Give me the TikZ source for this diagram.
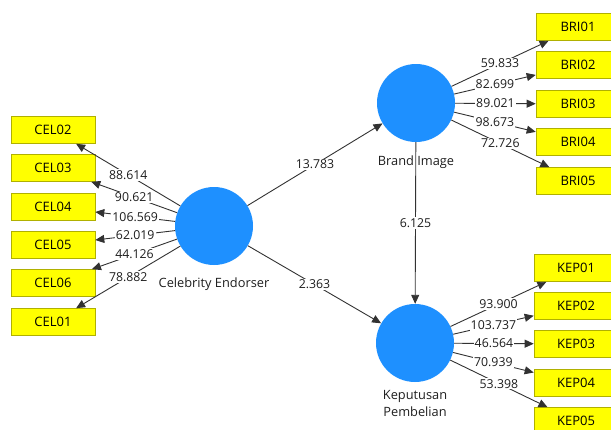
\documentclass[tikz,border=0pt]{standalone}
\usepackage{fontspec}
\setmainfont{Open Sans}
\usetikzlibrary{arrows.meta}
\definecolor{lvblue}{RGB}{30,144,255}
\definecolor{boxyellow}{RGB}{255,255,0}
\definecolor{boxedge}{RGB}{176,176,0}
\definecolor{linegray}{RGB}{50,50,50}
\definecolor{txtgray}{RGB}{30,30,30}
\tikzset{
  latent/.style={circle, fill=lvblue, draw=none, minimum size=78pt, inner sep=0pt},
  indic/.style={rectangle, fill=boxyellow, draw=boxedge, line width=0.6pt, minimum width=84pt, minimum height=27pt, inner sep=0pt, font=\fontsize{13}{15}\selectfont, text=black},
  arr/.style={draw=linegray, line width=0.9pt, -{Triangle[length=9pt,width=8pt]}},
  lbl/.style={fill=white, inner sep=1.2pt, font=\fontsize{12.3}{14}\selectfont, text=txtgray},
  lvname/.style={font=\fontsize{12.8}{17}\selectfont, text=txtgray, align=center}
}
\begin{document}
\begin{tikzpicture}[x=1pt, y=-1pt]
\useasboundingbox (0,0) rectangle (611,429);
\begin{scope}
\clip (0,0) rectangle (611,429);
% latent variables
\node[latent] (ce) at (214,226) {};
\node[latent] (bi) at (416,103) {};
\node[latent] (kp) at (415,343) {};
\node[lvname] (cename) at (214,284) {Celebrity Endorser};
\node[lvname] (biname) at (416,162) {Brand Image};
\node[lvname] (kpname) at (415,403) {Keputusan\\Pembelian};
% CEL indicators
\node[indic] (cel02) at (53,130) {CEL02};
\node[indic] (cel03) at (53,168) {CEL03};
\node[indic] (cel04) at (53,207) {CEL04};
\node[indic] (cel05) at (53,245) {CEL05};
\node[indic] (cel06) at (53,283) {CEL06};
\node[indic] (cel01) at (53,322) {CEL01};
% BRI indicators
\node[indic] (bri01) at (578,27) {BRI01};
\node[indic] (bri02) at (578,65) {BRI02};
\node[indic] (bri03) at (578,104) {BRI03};
\node[indic] (bri04) at (578,142) {BRI04};
\node[indic] (bri05) at (578,181) {BRI05};
% KEP indicators
\node[indic] (kep01) at (576,268) {KEP01};
\node[indic] (kep02) at (576,306) {KEP02};
\node[indic] (kep03) at (576,344) {KEP03};
\node[indic] (kep04) at (576,383) {KEP04};
\node[indic] (kep05) at (576,421) {KEP05};
% outer loadings CE
\draw[arr] (ce) -- node[lbl]{88.614} (cel02);
\draw[arr] (ce) -- node[lbl]{90.621} (cel03);
\draw[arr] (ce) -- node[lbl]{106.569} (cel04);
\draw[arr] (ce) -- node[lbl]{62.019} (cel05);
\draw[arr] (ce) -- node[lbl]{44.126} (cel06);
\draw[arr] (ce) -- node[lbl]{78.882} (cel01);
% outer loadings BI
\draw[arr] (bi) -- node[lbl]{59.833} (bri01);
\draw[arr] (bi) -- node[lbl]{82.699} (bri02);
\draw[arr] (bi) -- node[lbl]{89.021} (bri03);
\draw[arr] (bi) -- node[lbl]{98.673} (bri04);
\draw[arr] (bi) -- node[lbl]{72.726} (bri05);
% outer loadings KP
\draw[arr] (kp) -- node[lbl]{93.900} (kep01);
\draw[arr] (kp) -- node[lbl]{103.737} (kep02);
\draw[arr] (kp) -- node[lbl]{46.564} (kep03);
\draw[arr] (kp) -- node[lbl]{70.939} (kep04);
\draw[arr] (kp) -- node[lbl]{53.398} (kep05);
% structural paths
\draw[arr] (ce) -- node[lbl]{13.783} (bi);
\draw[arr] (ce) -- node[lbl]{2.363} (kp);
\draw[arr] (bi) -- node[lbl]{6.125} (kp);
\end{scope}
\end{tikzpicture}
\end{document}
